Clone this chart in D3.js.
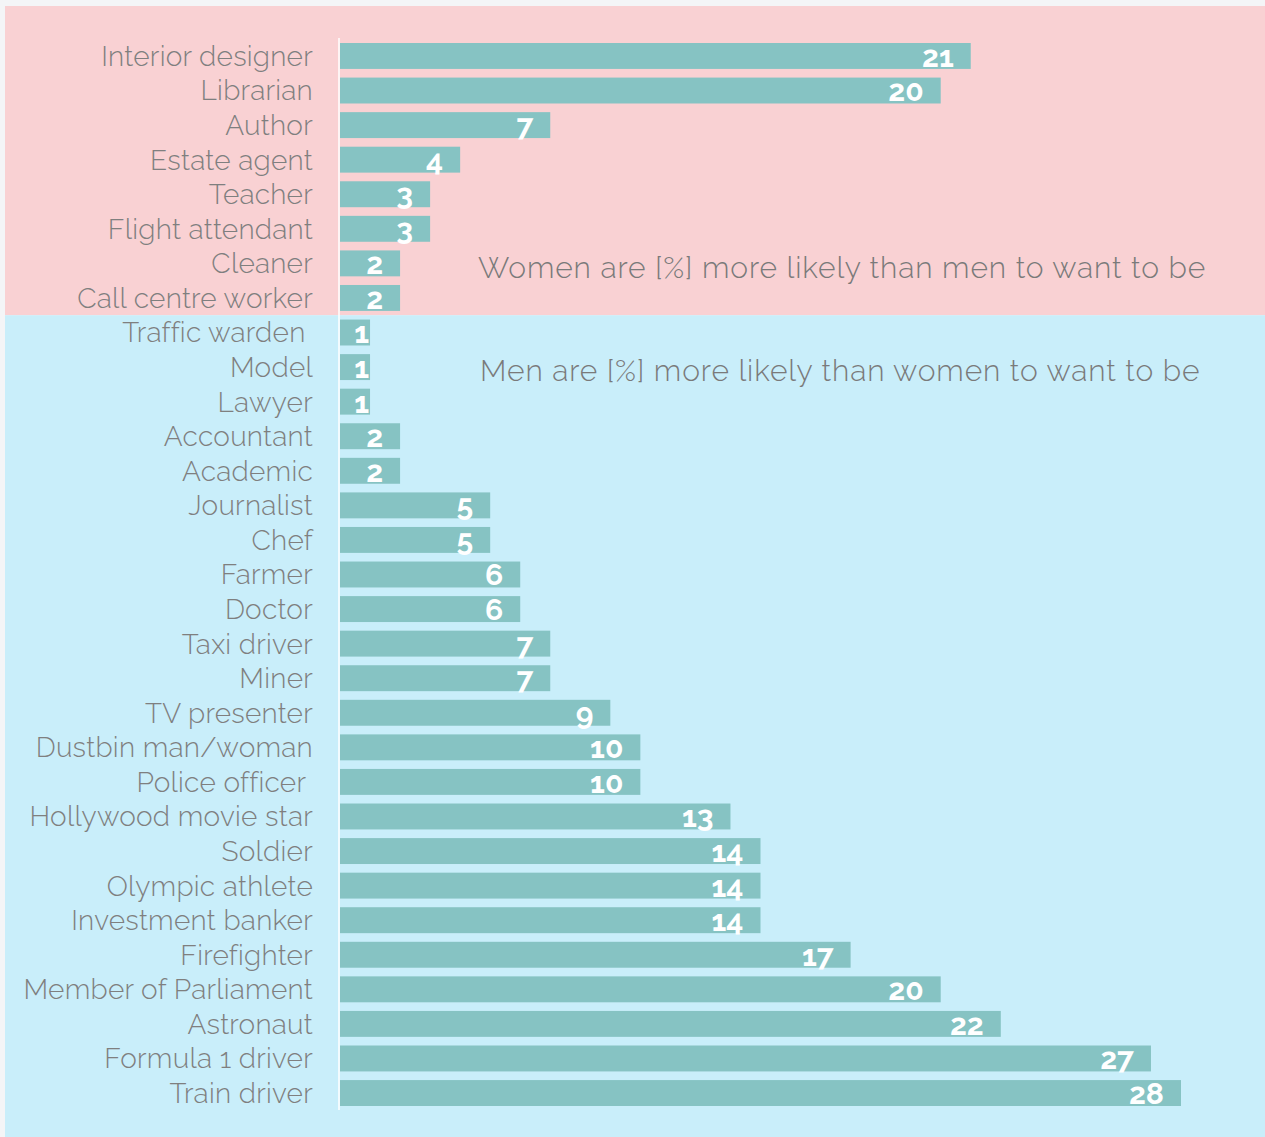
<!DOCTYPE html>
<html><head><meta charset="utf-8">
<script src="https://cdn.jsdelivr.net/npm/d3@7/dist/d3.min.js"></script>
<style>
html,body{margin:0;padding:0;background:#f4f5f7;}
svg{display:block;}
text{white-space:pre;}
</style></head>
<body>
<svg id="chart" width="1265" height="1137"></svg>
<script>
const cats = ["Interior designer","Librarian","Author","Estate agent","Teacher","Flight attendant","Cleaner","Call centre worker",
"Traffic warden ","Model","Lawyer","Accountant","Academic","Journalist","Chef","Farmer","Doctor","Taxi driver","Miner","TV presenter",
"Dustbin man/woman","Police officer ","Hollywood movie star","Soldier","Olympic athlete","Investment banker","Firefighter",
"Member of Parliament","Astronaut","Formula 1 driver","Train driver"];
const values = [21,20,7,4,3,3,2,2,1,1,1,2,2,5,5,6,6,7,7,9,10,10,13,14,14,14,17,20,22,27,28];
const groups = ["women","women","women","women","women","women","women","women",
"men","men","men","men","men","men","men","men","men","men","men","men","men","men","men","men","men","men","men","men","men","men","men"];
const annotations = ["Women are [%] more likely than men to want to be","Men are [%] more likely than women to want to be"];

const svg = d3.select("#chart");
const data = cats.map((c,i)=>({cat:c, v:values[i], g:groups[i]}));

const x = d3.scaleLinear().domain([0,28]).range([340,1181]);
const y = d3.scaleBand().domain(cats).range([43,1106]).paddingInner(0.25).paddingOuter(0);

// backgrounds
const firstMen = data.find(d=>d.g==="men").cat;
const splitY = y(firstMen) - (y.step()-y.bandwidth())/2;
svg.append("rect").attr("x",5).attr("y",6).attr("width",1260).attr("height",splitY-6).attr("fill","#f9d1d3");
svg.append("rect").attr("x",5).attr("y",splitY).attr("width",1260).attr("height",1137-splitY).attr("fill","#c9eefa");

// bars
svg.selectAll("rect.bar").data(data).join("rect").attr("class","bar")
  .attr("x",x(0)).attr("y",d=>y(d.cat)).attr("width",d=>x(d.v)-x(0)).attr("height",y.bandwidth())
  .attr("fill","#86c3c3");

// axis line
svg.append("line").attr("x1",x(0)-1).attr("x2",x(0)-1).attr("y1",38).attr("y2",1110)
  .attr("stroke","#ffffff").attr("stroke-width",1.5);

// category labels
svg.selectAll("text.cat").data(data).join("text").attr("class","cat")
  .attr("x",313).attr("y",d=>y(d.cat)+y.bandwidth()-3)
  .attr("text-anchor","end")
  .attr("font-family","Raleway, Lato, 'Open Sans', sans-serif").attr("font-weight",300)
  .attr("font-size",28).attr("letter-spacing",0.25).attr("fill","#7f7f7f")
  .text(d=>d.cat);

// value labels
svg.selectAll("text.val").data(data).join("text").attr("class","val")
  .attr("x",d=>Math.max(x(d.v)-17, x(0)+29)).attr("y",d=>y(d.cat)+y.bandwidth()-2)
  .attr("text-anchor","end")
  .attr("font-family","Raleway, Montserrat, 'Open Sans', sans-serif").attr("font-weight",700)
  .attr("font-size",30).attr("fill","#ffffff")
  .text(d=>d.v);

// annotations
svg.append("text").attr("x",478).attr("y",278)
  .attr("font-family","Raleway, Lato, 'Open Sans', sans-serif").attr("font-weight",300)
  .attr("font-size",30).attr("letter-spacing",0.9).attr("fill","#7a7a7a").text(annotations[0]);
svg.append("text").attr("x",480).attr("y",381)
  .attr("font-family","Raleway, Lato, 'Open Sans', sans-serif").attr("font-weight",300)
  .attr("font-size",30).attr("letter-spacing",0.9).attr("fill","#7a7a7a").text(annotations[1]);
</script>
</body></html>
